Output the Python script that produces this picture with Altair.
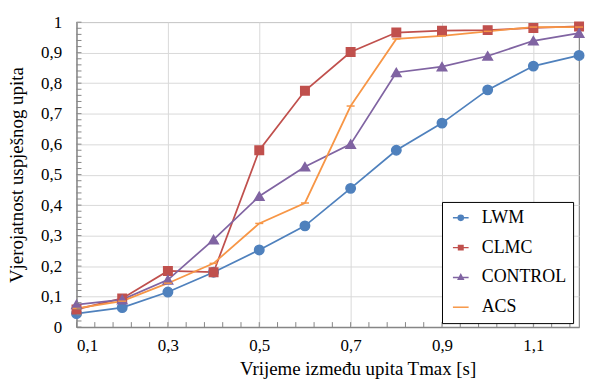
import altair as alt
import pandas as pd

x_vals = [0.1, 0.2, 0.3, 0.4, 0.5, 0.6, 0.7, 0.8, 0.9, 1.0, 1.1, 1.2]
lwm = [0.044, 0.064, 0.115, 0.180, 0.253, 0.332, 0.455, 0.580, 0.669, 0.778, 0.856, 0.891]
clmc = [0.058, 0.094, 0.184, 0.180, 0.580, 0.775, 0.902, 0.966, 0.972, 0.974, 0.981, 0.986]
control = [0.074, 0.090, 0.155, 0.287, 0.429, 0.526, 0.600, 0.835, 0.854, 0.889, 0.939, 0.964]
acs = [0.061, 0.085, 0.144, 0.209, 0.340, 0.407, 0.725, 0.945, 0.955, 0.970, 0.984, 0.984]

series_names = ["LWM", "CLMC", "CONTROL", "ACS"]
colors = ["#4F81BD", "#C0504D", "#8064A2", "#F79646"]

x_tick_values = [0.1, 0.3, 0.5, 0.7, 0.9, 1.1]
y_tick_values = [0, 0.1, 0.2, 0.3, 0.4, 0.5, 0.6, 0.7, 0.8, 0.9, 1]
x_minor = [round(0.1 + 0.04 * i, 2) for i in range(28)]
y_minor = [round(0.02 * i, 2) for i in range(51)]

rows = []
for name, vals in zip(series_names, [lwm, clmc, control, acs]):
    for xv, v in zip(x_vals, vals):
        rows.append({"x": xv, "v": v, "s": name})
df = pd.DataFrame(rows)

FONT = "Liberation Serif"
GRAY = "#868686"
W, H = 506, 307

xscale = alt.Scale(domain=[0.1, 1.2], nice=False, zero=False)
yscale = alt.Scale(domain=[0, 1], nice=False, zero=True)
cscale = alt.Scale(domain=series_names, range=colors)

label_expr = ("datum.value == 0 ? '0' : datum.value == 1 ? '1' : "
              "replace(format(datum.value, '.1f'), '.', ',')")

xaxis = alt.Axis(values=x_tick_values, labelExpr=label_expr, grid=True, ticks=False,
                 labelPadding=11, title="Vrijeme između upita Tmax [s]",
                 titleX=283, titleY=48, titleBaseline="alphabetic", titleAlign="center")
yaxis = alt.Axis(values=y_tick_values, labelExpr=label_expr, grid=True, ticks=False,
                 labelPadding=15, title="Vjerojatnost uspješnog upita",
                 titleX=-60, titleY=H / 2, titleBaseline="middle", titleAlign="center")

base = alt.Chart(df).encode(
    x=alt.X("x:Q", scale=xscale, axis=xaxis),
    y=alt.Y("v:Q", scale=yscale, axis=yaxis),
)

lines = base.mark_line(strokeWidth=1.75).encode(
    color=alt.Color("s:N", scale=cscale, legend=None)
)

marker_shapes = ["circle", "M-0.9,-0.9H0.9V0.9H-0.9Z", "triangle-up", "M-0.85,0H0.85"]
points = base.mark_point(filled=False, opacity=1, strokeWidth=1.5, size=90).encode(
    color=alt.Color("s:N", scale=cscale, legend=None),
    fill=alt.Fill("s:N", scale=cscale, legend=None),
    shape=alt.Shape("s:N", scale=alt.Scale(domain=series_names, range=marker_shapes), legend=None),
)

legend_shapes = [
    "M-1,0H0.06M1.1,0H2.16M0.06,0A0.52,0.52 0 1,1 1.1,0A0.52,0.52 0 1,1 0.06,0Z",
    "M-1,0H0.13M1.03,0H2.16M0.13,-0.45H1.03V0.45H0.13Z",
    "M-1,0H0.28M0.88,0H2.16M0.58,-0.55L1.08,0.38H0.08Z",
    "M-1,0H2.16",
]
leg = alt.Legend(title=None, labelExpr="datum.label + '     '", labelFont=FONT, labelFontSize=18)
legend_layer = alt.Chart(df).transform_filter("false").mark_point(
    filled=False, opacity=1, strokeWidth=1.5
).encode(
    x=alt.X("x:Q", scale=xscale, axis=xaxis),
    y=alt.Y("v:Q", scale=yscale, axis=yaxis),
    color=alt.Color("s:N", scale=cscale, legend=leg),
    fill=alt.Fill("s:N", scale=cscale, legend=leg),
    shape=alt.Shape("s:N", scale=alt.Scale(domain=series_names, range=legend_shapes), legend=leg),
)

xminor_layer = alt.Chart(pd.DataFrame({"t": x_minor})).mark_rule(color=GRAY, strokeWidth=1).encode(
    x=alt.X("t:Q", scale=xscale, axis=xaxis),
    y=alt.value(H),
    y2=alt.value(H - 5),
)
yminor_layer = alt.Chart(pd.DataFrame({"t": y_minor})).mark_rule(color=GRAY, strokeWidth=1).encode(
    y=alt.Y("t:Q", scale=yscale, axis=yaxis),
    x=alt.value(0),
    x2=alt.value(5),
)

chart = alt.layer(lines, points, xminor_layer, yminor_layer, legend_layer).resolve_scale(
    color="independent", fill="independent", shape="independent"
).properties(
    width=W, height=H,
    padding={"left": 0, "top": 4, "right": 0, "bottom": 0},
).configure_view(
    stroke=GRAY, strokeWidth=1.2
).configure_axis(
    labelFont=FONT, titleFont=FONT, labelFontSize=17, titleFontSize=19,
    labelColor="black", titleColor="black", titleFontWeight="normal",
    gridColor="#D9D9D9", gridWidth=1, domainColor=GRAY, domainWidth=1.2,
).configure_legend(
    orient="none", legendX=368, legendY=181,
    labelFont=FONT, labelFontSize=18, labelColor="black",
    symbolSize=100, symbolStrokeWidth=1.5, labelOffset=15,
    rowPadding=12, padding=7, strokeColor="black", fillColor="white",
)

chart.save("out.html", embed_options={"renderer": "svg", "actions": False})
